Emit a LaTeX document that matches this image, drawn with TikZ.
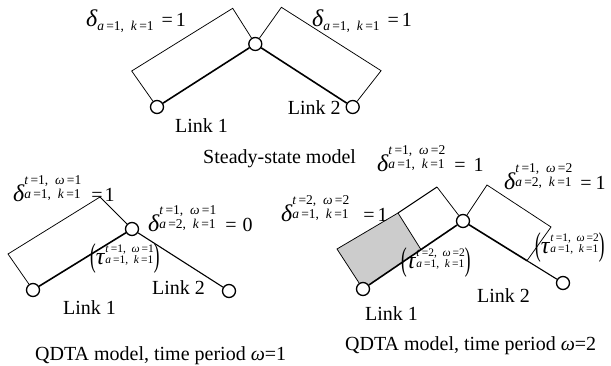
\documentclass[tikz,border=0pt]{standalone}
\usepackage{fontspec}
\usepackage{graphicx}
\setmainfont{Liberation Serif}
\newdimen\stkw
\newcommand\scr{\fontsize{13.5}{13.5}\selectfont}
\newcommand\tscr{\fontsize{11.5}{11.5}\selectfont}
\newcommand\stk[5]{% font, sup, sub, sup raise, sub raise
  \setbox0\hbox{#1#2}\setbox2\hbox{#1#3}%
  \stkw=\wd0 \ifdim\wd2>\stkw \stkw=\wd2 \fi
  \hbox to \stkw{\rlap{\raisebox{#4}{\copy0}}\raisebox{#5}{\copy2}\hss}}
\newcommand\dsym{{\fontsize{24}{24}\selectfont\itshape δ}}
\newcommand\tsym{{\fontsize{24}{24}\selectfont\itshape τ}}
\newcommand\bpar[1]{\raisebox{-1.5pt}{\scalebox{0.85}[1.65]{#1}}}
% sup, sub, gap before =, gap after =, rhs
\newcommand\dl[5]{\dsym\stk{\scr}{#1}{#2}{17pt}{3pt}\hspace{#3}=\hspace{#4}#5}
\newcommand\tl[2]{\bpar{(}\tsym\hspace{1pt}\stk{\tscr}{#1}{#2}{12pt}{1pt}\bpar{)}}
\newcommand\sa[2]{\textit{#1}\,=#2}
\begin{document}
\begin{tikzpicture}[x=1pt,y=-1pt,
  every node/.style={font=\fontsize{20}{24}\selectfont},
  nd/.style={circle,draw,fill=white,line width=1.3pt,minimum size=13pt,inner sep=0pt},
  lk/.style={line width=1.6pt},
  lkm/.style={line width=1.1pt},
  bx/.style={line width=0.75pt},
  lab/.style={inner sep=0pt,anchor=base west}]
\useasboundingbox (0,0) rectangle (611,366);

% ---------- top: steady-state ----------
\node[nd] (c0) at (255.3,44) {};
\node[nd] (l0) at (157,107) {};
\node[nd] (r0) at (352.7,107) {};
\coordinate (tA) at (131.7,71);
\coordinate (tB) at (232.7,8.3);
\coordinate (tC) at (281.4,7.3);
\coordinate (tD) at (381.1,70.7);
\draw[bx] (l0) -- (tA) -- (tB) -- (c0);
\draw[bx] (c0) -- (tC) -- (tD) -- (r0);
\draw[lk] (l0) -- (c0);
\draw[lk] (c0) -- (r0);
\node[lab] (d0a) at (86,27) {\dsym\raisebox{-4pt}{\scr \sa{a}{1},\ \ \sa{k}{1}}\hspace{8pt}=\hspace{3pt}1};
\node[lab] (d0b) at (312,27) {\dsym\raisebox{-4pt}{\scr \sa{a}{1},\ \ \sa{k}{1}}\hspace{8pt}=\hspace{3pt}1};
\node[lab] (k01) at (175,133) {Link 1};
\node[lab] (k02) at (287.6,115) {Link 2};
\node[lab] (cap0) at (203,164) {Steady-state model};

% ---------- bottom left: omega = 1 ----------
\node[nd] (c1) at (132,229) {};
\node[nd] (l1) at (33,290) {};
\node[nd] (r1) at (229,291) {};
\coordinate (bA) at (8,254);
\coordinate (bB) at (100,197);
\draw[bx] (l1) -- (bA) -- (bB) -- (c1);
\draw[lk] (l1) -- (c1);
\draw[lkm] (c1) -- (r1);
\node[lab] (d1a) at (13,202) {\dl{\sa{t}{1},\ \ \sa{\textit{ω}}{1}}{\sa{a}{1},\ \ \sa{k}{1}}{10pt}{2pt}{1}};
\node[lab] (d1b) at (148,232) {\dl{\sa{t}{1},\ \ \sa{\textit{ω}}{1}}{\sa{a}{2},\ \ \sa{k}{1}}{9pt}{6pt}{0}};
\node[lab] (t1) at (90,265) {\tl{\sa{t}{1},\ \ \sa{\textit{ω}}{1}}{\sa{a}{1},\ \ \sa{k}{1}}};
\node[lab] (k12) at (152,295) {Link 2};
\node[lab] (k11) at (63,315) {Link 1};
\node[lab] (cap1) at (35,360) {QDTA model, time period \textit{ω}=1};

% ---------- bottom right: omega = 2 ----------
\coordinate (pc2) at (463,221);
\coordinate (pl2) at (363,289);
\coordinate (gA) at (337,249);
\coordinate (gB) at (398,213);
\coordinate (m1) at (421,249.6);
\coordinate (gC) at (437,187);
\coordinate (hA) at (487,185);
\coordinate (hB) at (551,227);
\coordinate (m2) at (527,260.7);
\fill[gray!40] (pl2) -- (gA) -- (gB) -- (m1) -- cycle;
\node[nd] (c2) at (pc2) {};
\node[nd] (l2) at (pl2) {};
\node[nd] (r2) at (563,283) {};
\draw[bx] (l2) -- (gA) -- (gB);
\draw[line width=1.1pt] (gB) -- (gC);
\draw[bx] (gC) -- (c2);
\draw[bx] (gB) -- (m1);
\draw[bx] (c2) -- (hA) -- (hB) -- (m2);
\draw[lk] (l2) -- (c2);
\draw[lk] (c2) -- (m2);
\draw[lkm] (m2) -- (r2);
\node[lab] (d2a) at (377,172) {\dl{\sa{t}{1},\ \ \sa{\textit{ω}}{2}}{\sa{a}{1},\ \ \sa{k}{1}}{9pt}{8pt}{1}};
\node[lab] (d2b) at (281,222) {\dl{\sa{t}{2},\ \ \sa{\textit{ω}}{2}}{\sa{a}{1},\ \ \sa{k}{1}}{14pt}{3pt}{1}};
\node[lab] (d2c) at (504,190) {\dl{\sa{t}{1},\ \ \sa{\textit{ω}}{2}}{\sa{a}{2},\ \ \sa{k}{1}}{8pt}{4pt}{1}};
\node[lab] (t2) at (401,269) {\tl{\sa{t}{2},\ \ \sa{\textit{ω}}{2}}{\sa{a}{1},\ \ \sa{k}{1}}};
\node[lab] (t3) at (535,254) {\tl{\sa{t}{1},\ \ \sa{\textit{ω}}{2}}{\sa{a}{1},\ \ \sa{k}{1}}};
\node[lab] (k22) at (477,303) {Link 2};
\node[lab] (k21) at (365,321) {Link 1};
\node[lab] (cap2) at (345,350) {QDTA model, time period \textit{ω}=2};
\end{tikzpicture}
\end{document}
